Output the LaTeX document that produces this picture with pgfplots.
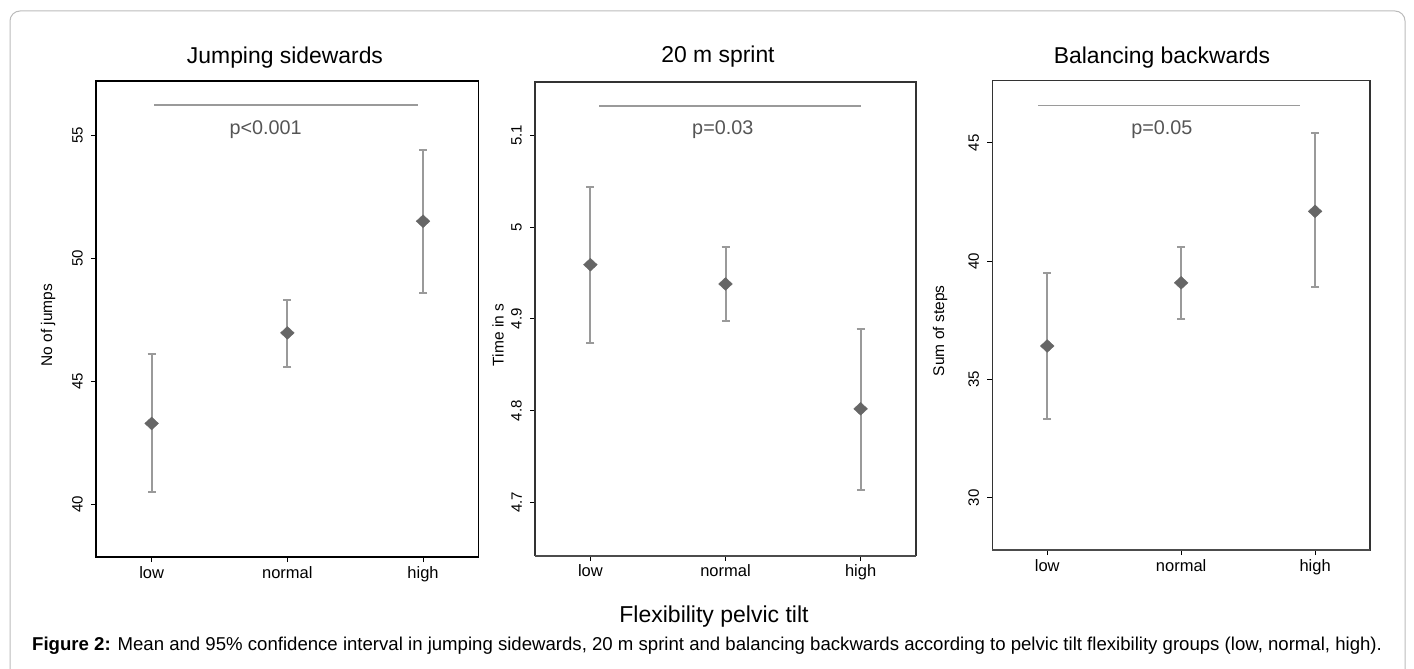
\documentclass[border=0pt]{standalone}
\usepackage{fontspec}
\setmainfont{Liberation Sans}
\usepackage{pgfplots}
\pgfplotsset{compat=1.18}

\definecolor{bargray}{HTML}{9A9A9A}
\definecolor{meangray}{HTML}{666666}
\definecolor{ptext}{HTML}{555555}
\definecolor{framegray}{HTML}{BBBBBB}

\pgfplotsset{
  cipanel/.style={
    scale only axis,
    xmin=0.59, xmax=3.41,
    xtick={1,2,3},
    xticklabels={low,normal,high},
    xtick pos=bottom, ytick pos=left,
    tick align=outside,
    major tick length=5pt,
    tick style={line width=0.8pt, black},
    /pgf/number format/assume math mode=true,
    xticklabel style={font=\fontsize{16.5}{18}\selectfont, inner sep=0pt, yshift=-4pt},
    yticklabel style={font=\fontsize{15}{17}\selectfont, rotate=90, anchor=south, inner sep=0pt, yshift=8pt},
    clip=false,
  },
  ylab/.style 2 args={
    every axis y label/.style={at={(axis description cs:#1,#2)}, rotate=90, anchor=center,
      font=\fontsize{15.5}{17}\selectfont},
  },
  meanci/.style={
    only marks,
    mark=diamond*,
    mark size=6.4pt,
    mark options={fill=meangray, draw=meangray, line width=0.4pt, xscale=1.43},
    error bars/.cd,
      y dir=both, y explicit,
      error bar style={line width=2pt, bargray},
      error mark options={rotate=90, mark size=4pt, line width=2pt, bargray, xscale=1},
  },
  sigline/.style={no marks, line width=1.3pt, bargray},
}

\begin{document}
\begin{tikzpicture}

% outer frame
\draw[framegray, line width=1pt, rounded corners=10pt] (10pt,-11pt) rectangle (1405pt,-720pt);

% panel titles
\begin{scope}[font=\fontsize{22.9}{25}\selectfont]
\node[anchor=base] at (285pt,-63.3pt) {Jumping sidewards};
\node[anchor=base] at (718pt,-62.5pt) {20 m sprint};
\node[anchor=base] at (1162pt,-63.3pt) {Balancing backwards};
\end{scope}

% Panel 1
\begin{axis}[cipanel,
  at={(96pt,-557pt)}, anchor=south west,
  width=382.7pt, height=476pt,
  ymin=37.85, ymax=57.2,
  ytick={40,45,50,55},
  ylabel={No of jumps},
  ylab={-0.125}{0.487},
  axis line style={line width=1.2pt, black},
]
\addplot[meanci] coordinates {
  (1,43.28) += (0,2.82) -= (0,2.79)
  (2,46.96) += (0,1.34) -= (0,1.38)
  (3,51.50) += (0,2.89) -= (0,2.91)
};
\addplot[sigline] coordinates {(1.02,56.22) (2.96,56.22)};
\node[ptext, font=\fontsize{19.8}{21}\selectfont] at (axis cs:1.84,55.24) {p<0.001};
\draw[line width=2.4pt, black] (rel axis cs:0,0) -- (rel axis cs:1,0);
\end{axis}

% Panel 2
\begin{axis}[cipanel,
  at={(535pt,-555.7pt)}, anchor=south west,
  width=381pt, height=473.7pt,
  ymin=4.642, ymax=5.158,
  ytick={4.7,4.8,4.9,5,5.1},
  yticklabels={4.7,4.8,4.9,5,5.1},
  ylabel={Time in s},
  ylab={-0.097}{0.466},
  axis line style={line width=1.2pt, black!80},
]
\addplot[meanci] coordinates {
  (1,4.959) += (0,0.085) -= (0,0.085)
  (2,4.938) += (0,0.040) -= (0,0.040)
  (3,4.802) += (0,0.087) -= (0,0.088)
};
\addplot[sigline] coordinates {(1.064,5.132) (3.004,5.132)};
\node[ptext, font=\fontsize{19.8}{21}\selectfont] at (axis cs:1.98,5.1065) {p=0.03};
\draw[line width=2.4pt, black!70] (rel axis cs:0,0) -- (rel axis cs:1,0);
\end{axis}

% Panel 3
\begin{axis}[cipanel,
  at={(992.3pt,-550pt)}, anchor=south west,
  width=377.7pt, height=469.3pt,
  ymin=27.79, ymax=47.62,
  ytick={30,35,40,45},
  ylabel={Sum of steps},
  ylab={-0.138}{0.467},
  axis line style={line width=1.2pt, black!80},
]
\addplot[meanci] coordinates {
  (1,36.41) += (0,3.10) -= (0,3.10)
  (2,39.08) += (0,1.51) -= (0,1.52)
  (3,42.10) += (0,3.32) -= (0,3.19)
};
\addplot[sigline] coordinates {(0.933,46.56) (2.884,46.56)};
\node[ptext, font=\fontsize{19.8}{21}\selectfont] at (axis cs:1.856,45.54) {p=0.05};
\draw[line width=2.4pt, black!70] (rel axis cs:0,0) -- (rel axis cs:1,0);
\end{axis}

% common x label and caption
\node[anchor=base, font=\fontsize{23}{25}\selectfont] at (714pt,-622pt) {Flexibility pelvic tilt};
\node[anchor=base west, inner sep=0pt, font=\fontsize{18.6}{20}\selectfont] at (32pt,-650pt)
  {\textbf{Figure 2:} Mean and 95\% confidence interval in jumping sidewards, 20 m sprint and balancing backwards according to pelvic tilt flexibility groups (low, normal, high).};

\pgfresetboundingbox
\path[use as bounding box] (0pt,0pt) rectangle (1414pt,-669pt);
\end{tikzpicture}
\end{document}
